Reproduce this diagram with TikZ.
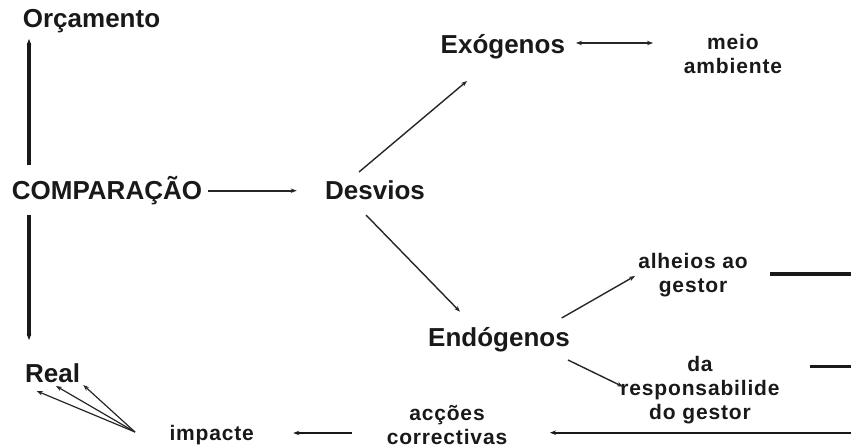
\documentclass[tikz,border=0pt]{standalone}
\usepackage{fontspec}
\setmainfont{Liberation Sans}
\newfontfamily\spacedsans{Liberation Sans}[LetterSpace=4]
\usetikzlibrary{arrows.meta, positioning, calc}

\begin{document}
\begin{tikzpicture}[
  x=1pt, y=1pt,
  >={Stealth[length=6pt, width=4.5pt]},
  mainnode/.style={inner sep=0pt, text=black!90, font=\fontsize{26}{30}\selectfont\bfseries},
  smallnode/.style={inner sep=0pt, text=black!90, align=center, font=\spacedsans\fontsize{21}{24}\selectfont\bfseries},
  flow/.style={->, line width=1.4pt, black!85},
  flow2/.style={<->, line width=2pt, black!85},
  thickflow/.style={->, line width=3.2pt, black!90},
  bar/.style={line width=3.2pt, black!90}
]
\useasboundingbox (0,0) rectangle (851,445);

% Left column
\node[mainnode, anchor=base west] (orc)  at (22.7,417) {Orçamento};
\node[mainnode, anchor=base west] (comp) at (11.7,245) {COMPARAÇÃO};
\node[mainnode, anchor=base west] (real) at (25,63)    {Real};

% Deviations
\node[mainnode, anchor=base west] (desv) at (325,245.7)  {Desvios};
\node[mainnode, anchor=base west] (exo)  at (440.5,391.7) {Exógenos};
\node[mainnode, anchor=base west] (endo) at (428,98.3)   {Endógenos};
\node[smallnode] (meio) at (733,391)   {meio\\ambiente};
\node[smallnode] (alh)  at (693,170.3) {alheios ao\\gestor};
\node[smallnode] (resp) at (700,54.5)  {da\\responsabilide\\do gestor};

% Corrective loop
\node[smallnode] (acc) at (447,19.5) {acções\\correctivas};
\node[smallnode, anchor=base west] (imp) at (169.3,5) {impacte};
\coordinate (edgeA) at (851,171);
\coordinate (edgeR) at (851,78.3);
\coordinate (edgeB) at (851,12.3);

% Flows
\draw[thickflow] ([shift={(17.3pt,35pt)}]comp.base west) -- ([shift={(6.3pt,-11pt)}]orc.base west);
\draw[thickflow] ([shift={(17.3pt,-15pt)}]comp.base west) -- ([shift={(4pt,42pt)}]real.base west);
\draw[->, line width=2pt, black!85] ([shift={(196.3pt,9.3pt)}]comp.base west) -- ([shift={(-28.3pt,8.6pt)}]desv.base west);
\draw[flow] ([shift={(34pt,27.3pt)}]desv.base west) -- ([shift={(26.5pt,-27.7pt)}]exo.base west);
\draw[flow] ([shift={(41pt,-15.7pt)}]desv.base west) -- ([shift={(32pt,35pt)}]endo.base west);
\draw[flow2] ([shift={(135.5pt,10.3pt)}]exo.base west) -- ([shift={(-80pt,11pt)}]meio.center);
\draw[flow] ([shift={(133.7pt,28.7pt)}]endo.base west) -- ([shift={(-58pt,-1.3pt)}]alh.center);
\draw[flow] ([shift={(140pt,-13.3pt)}]endo.base west) -- ([shift={(-77pt,3.8pt)}]resp.center);

% Right-hand returns
\draw[bar] ([shift={(77pt,0.7pt)}]alh.center) -- (edgeA);
\draw[bar] ([shift={(110pt,23.8pt)}]resp.center) -- (edgeR);
\draw[->, line width=2.4pt, black!90] (edgeB) -- ([shift={(103pt,-7.2pt)}]acc.center);
\draw[->, line width=2.4pt, black!90] ([shift={(-95.3pt,-7.5pt)}]acc.center) -- ([shift={(124pt,7pt)}]imp.base west);

% Impact on real
\foreach \dx/\dy in {11.7/-9, 31/-4, 58.3/-3}
  \draw[flow, line width=1.2pt] ([shift={(-34.3pt,8pt)}]imp.base west) -- ([shift={(\dx pt,\dy pt)}]real.base west);
\end{tikzpicture}
\end{document}
